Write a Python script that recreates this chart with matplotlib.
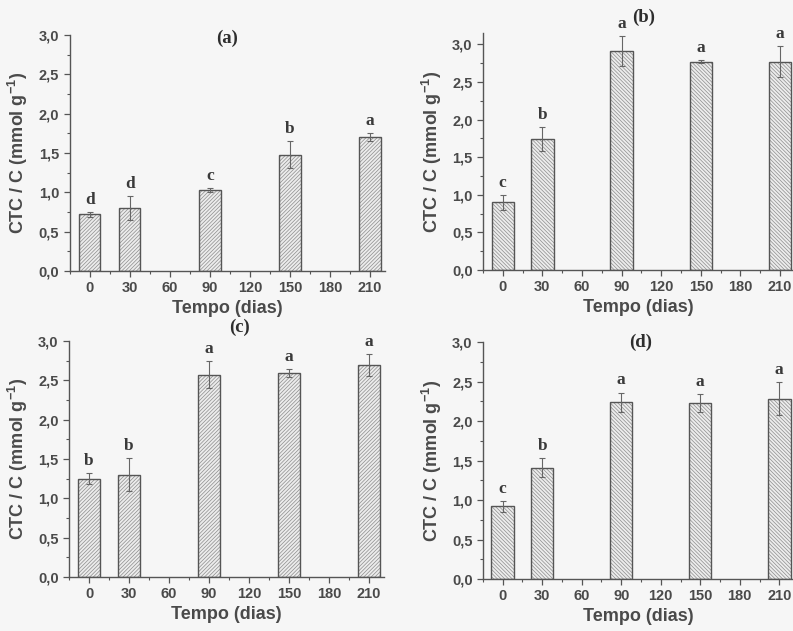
import numpy as np
import matplotlib.pyplot as plt
from matplotlib.ticker import MultipleLocator

dias = [0, 30, 90, 150, 210]

# Valores médios, desvios e letras de cada painel
ctc_a = [0.72, 0.80, 1.03, 1.48, 1.70]
err_a = [0.03, 0.15, 0.02, 0.17, 0.05]
let_a = ['d', 'd', 'c', 'b', 'a']

ctc_b = [0.90, 1.74, 2.91, 2.77, 2.77]
err_b = [0.10, 0.16, 0.20, 0.02, 0.21]
let_b = ['c', 'b', 'a', 'a', 'a']

ctc_c = [1.25, 1.30, 2.57, 2.59, 2.69]
err_c = [0.07, 0.21, 0.17, 0.05, 0.14]
let_c = ['b', 'b', 'a', 'a', 'a']

ctc_d = [0.92, 1.41, 2.24, 2.23, 2.28]
err_d = [0.07, 0.12, 0.12, 0.11, 0.21]
let_d = ['c', 'b', 'a', 'a', 'a']

plt.rcParams['hatch.linewidth'] = 0.5

fig = plt.figure(figsize=(7.93, 6.31), dpi=100)
fig.patch.set_facecolor('#f6f6f6')

txt = '#4a4a4a'
sans = 'Liberation Sans'
serif = 'Liberation Serif'

paineis = [
    # dados, erros, letras, posição, ylim, hachura, largura, título (x, y)
    (ctc_a, err_a, let_a, [0.088, 0.5705, 0.397, 0.374], 3.0, '/' * 9, 16, (103, 2.96), '(a)'),
    (ctc_b, err_b, let_b, [0.609, 0.572, 0.393, 0.3756], 3.15, '\\' * 9, 17, (107, 3.36), '(b)'),
    (ctc_c, err_c, let_c, [0.087, 0.0856, 0.397, 0.374], 3.0, '/' * 9, 16, (113, 3.17), '(c)'),
    (ctc_d, err_d, let_d, [0.609, 0.0824, 0.392, 0.3756], 3.0, '\\' * 9, 17, (105, 3.0), '(d)'),
]

for vals, errs, lets, pos, ytop, hatch, w, tpos, titulo in paineis:
    ax = fig.add_axes(pos)
    ax.set_facecolor('none')
    # preenchimento hachurado e contorno separados
    ax.bar(dias, vals, width=w, color='#ececec', edgecolor='#8c8c8c',
           hatch=hatch, linewidth=0, zorder=2)
    ax.bar(dias, vals, width=w, fill=False, edgecolor='#555555',
           linewidth=1.0, zorder=3)
    ax.errorbar(dias, vals, yerr=errs, fmt='none', ecolor='#666666',
                elinewidth=0.8, capsize=2, capthick=0.8, zorder=4)
    for x, v, e, l in zip(dias, vals, errs, lets):
        ax.annotate(l, (x, v + e), xytext=(0, 3), textcoords='offset points',
                    ha='center', va='bottom', fontsize=12.5, fontweight='bold',
                    family=serif, color='#3a3a3a')
    ax.text(tpos[0], tpos[1], titulo, ha='center', va='center', fontsize=13.5,
            fontweight='bold', family=serif, color='#2e2e2e', clip_on=False)

    ax.set_xlim(-15, 221)
    ax.set_ylim(0, ytop)
    ax.set_xticks([0, 30, 60, 90, 120, 150, 180, 210])
    ax.xaxis.set_minor_locator(MultipleLocator(15))
    ax.yaxis.set_major_locator(MultipleLocator(0.5))
    ax.yaxis.set_minor_locator(MultipleLocator(0.25))
    ax.yaxis.set_major_formatter(lambda v, p: f'{v:.1f}'.replace('.', ','))
    for s in ['top', 'right']:
        ax.spines[s].set_visible(False)
    for s in ['left', 'bottom']:
        ax.spines[s].set_color('#555555')
        ax.spines[s].set_linewidth(1.0)
    ax.tick_params(which='major', direction='out', length=4, width=0.9,
                   color='#555555', labelcolor=txt, labelsize=10.5)
    ax.tick_params(which='minor', direction='out', length=2.5, width=0.8,
                   color='#555555')
    for lab in ax.get_xticklabels() + ax.get_yticklabels():
        lab.set_fontfamily(sans)
        lab.set_fontweight('bold')
    ax.set_xlabel('Tempo (dias)', fontsize=13, fontweight='bold',
                  family=sans, color=txt, labelpad=3)
    ax.set_ylabel('CTC / C (mmol g$^{\\mathregular{-1}}$)', fontsize=13,
                  fontweight='bold', family=sans, color=txt, labelpad=6)

fig.savefig('out.png', dpi=100, facecolor=fig.get_facecolor())
